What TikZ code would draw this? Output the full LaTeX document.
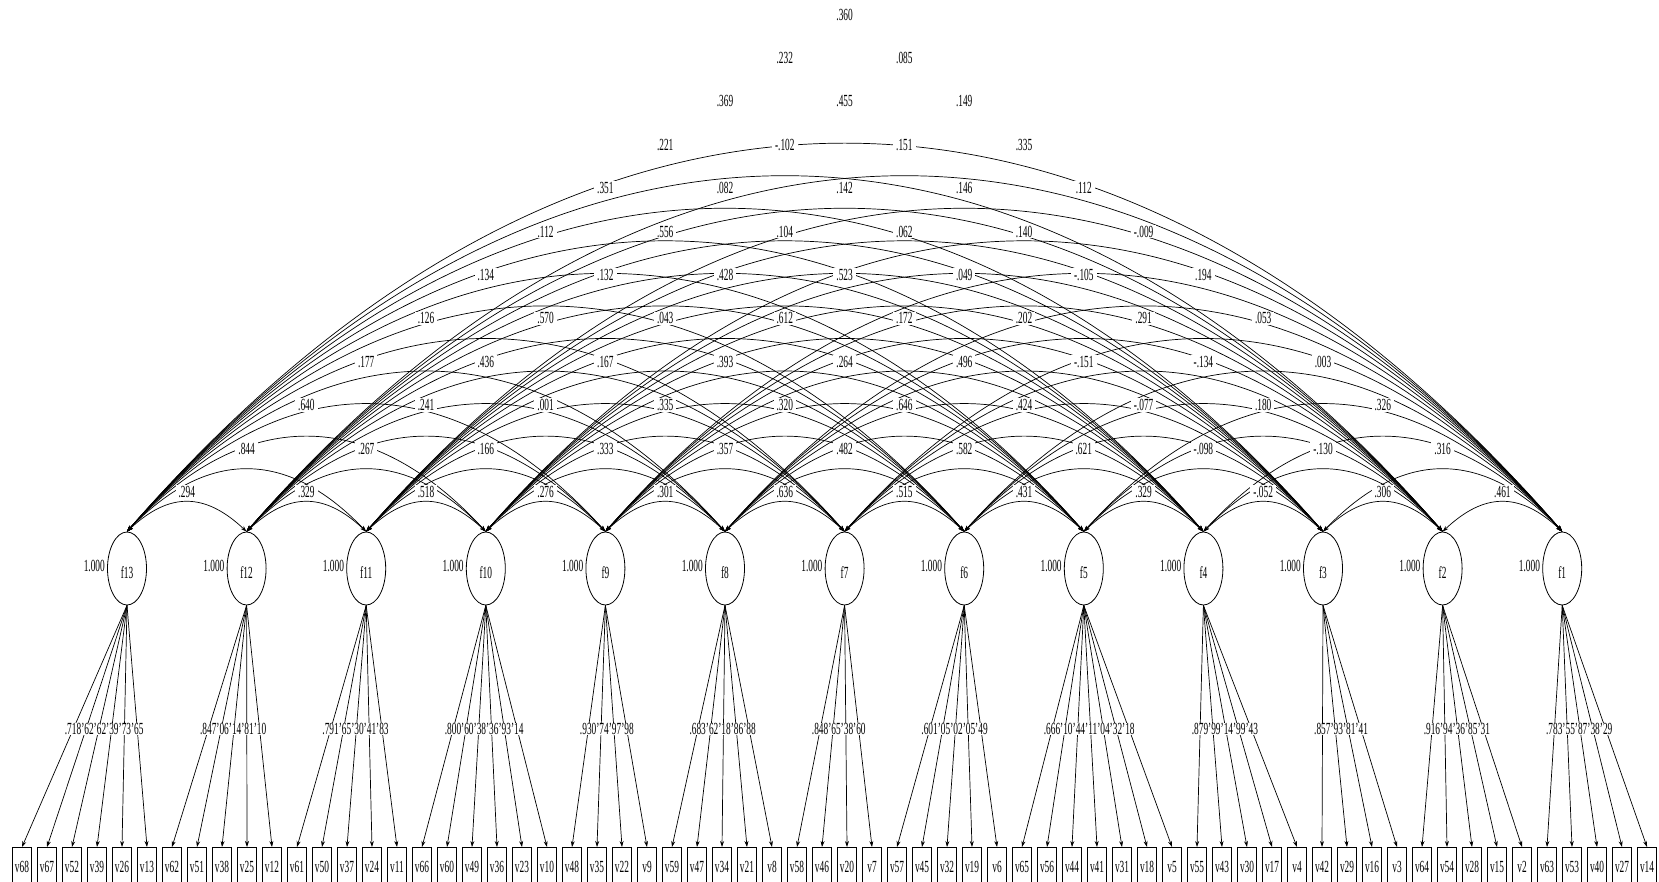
\documentclass[tikz,border=0pt]{standalone}
\usepackage{fontspec}
\setmainfont[FakeStretch=0.55]{Liberation Serif}
\usetikzlibrary{shapes.geometric,arrows.meta,calc}
\begin{document}
\begin{tikzpicture}[x=1pt,y=-1pt,
  font=\fontsize{17pt}{17pt}\selectfont,
  factor/.style={draw,ellipse,minimum width=39pt,minimum height=73pt,inner sep=0pt,line width=0.8pt},
  obs/.style={draw,rectangle,minimum width=19pt,minimum height=40pt,inner sep=0pt,line width=0.8pt,anchor=north},
  tipa/.tip={Stealth[length=6pt,width=4pt]},
  cov/.style={line width=0.7pt,tipa-tipa},
  load/.style={line width=0.7pt,-tipa},
  covlab/.style={fill=white,inner xsep=3pt,inner ysep=1pt},
  loadlab/.style={fill=white,inner sep=0.5pt,anchor=west},
  plain/.style={inner sep=0pt}
]
\useasboundingbox (0,0) rectangle (1659,882);
% factors
\foreach \k in {1,...,13}{
  \pgfmathsetmacro\x{127+(13-\k)*119.6}
  \node[factor] (f\k) at (\x,568.5) {};
  \node[plain] (fl\k) at (\x,573) {f\k};
  \node[plain,anchor=east] (fv\k) at (\x-22,566) {1.000};
}
% observed variables
\foreach \v [count=\n from 0] in {68,67,52,39,26,13,62,51,38,25,12,61,50,37,24,11,66,60,49,36,23,10,48,35,22,9,59,47,34,21,8,58,46,20,7,57,45,32,19,6,65,56,44,41,31,18,5,55,43,30,17,4,42,29,16,3,64,54,28,15,2,63,53,40,27,14}{
  \node[obs] (v\v) at (22+25*\n,847) {v\v};
}
% loadings
\foreach \f/\vs in {13/{68,67,52,39,26,13},12/{62,51,38,25,12},11/{61,50,37,24,11},10/{66,60,49,36,23,10},9/{48,35,22,9},8/{59,47,34,21,8},7/{58,46,20,7},6/{57,45,32,19,6},5/{65,56,44,41,31,18,5},4/{55,43,30,17,4},3/{42,29,16,3},2/{64,54,28,15,2},1/{63,53,40,27,14}}{
  \foreach \v in \vs { \draw[load] (f\f.south) -- (v\v.north); }
}
\foreach \f/\first/\s in {13/68/{.718'62'62'39'73'65},12/62/{.847'06'14'81'10},11/61/{.791'65'30'41'83},10/66/{.800'60'38'36'93'14},9/48/{.930'74'97'98},8/59/{.683'62'18'86'88},7/58/{.848'65'38'60},6/57/{.601'05'02'05'49},5/65/{.666'10'44'11'04'32'18},4/55/{.879'99'14'99'43},3/42/{.857'93'81'41},2/64/{.916'94'36'85'31},1/63/{.783'55'87'38'29}}{
  \node[loadlab,xshift=-9pt] (ll\f) at ($(f\f.south)!0.5124!(v\first.north)$) {\s};
}
% covariances
\def\covlist{1/2/.294,2/3/.329,3/4/.518,4/5/.276,5/6/.301,6/7/.636,7/8/.515,8/9/.431,9/10/.329,10/11/-.052,11/12/.306,12/13/.461,
1/3/.844,2/4/.267,3/5/.166,4/6/.333,5/7/.357,6/8/.482,7/9/.582,8/10/.621,9/11/-.098,10/12/-.130,11/13/.316,
1/4/.640,2/5/.241,3/6/.001,4/7/.335,5/8/.320,6/9/.646,7/10/.424,8/11/-.077,9/12/.180,10/13/.326,
1/5/.177,2/6/.436,3/7/.167,4/8/.393,5/9/.264,6/10/.496,7/11/-.151,8/12/-.134,9/13/.003,
1/6/.126,2/7/.570,3/8/.043,4/9/.612,5/10/.172,6/11/.202,7/12/.291,8/13/.053,
1/7/.134,2/8/.132,3/9/.428,4/10/.523,5/11/.049,6/12/-.105,7/13/.194,
1/8/.112,2/9/.556,3/10/.104,4/11/.062,5/12/.140,6/13/-.009,
1/9/.351,2/10/.082,3/11/.142,4/12/.146,5/13/.112,
1/10/.221,2/11/-.102,3/12/.151,4/13/.335,
1/11/.369,2/12/.455,3/13/.149,
1/12/.232,2/13/.085,
1/13/.360}
\foreach \i/\j/\t in \covlist{
  \pgfmathsetmacro\xa{127+(\i-1)*119.6}
  \pgfmathsetmacro\xb{127+(\j-1)*119.6}
  \pgfmathsetmacro\yc{492-(\j-\i-1)*43.4}
  \pgfmathsetmacro\a{0.31*(\xb-\xa)+5}
  \pgfmathtruncatemacro\ka{14-\i}
  \pgfmathtruncatemacro\kb{14-\j}
  \draw[cov] (f\ka.north) .. controls (\xa+\a,\yc) and (\xb-\a,\yc) .. (f\kb.north);
}
\foreach \i/\j/\t in \covlist{
  \pgfmathsetmacro\xm{127+(\i+\j-2)*59.8}
  \pgfmathsetmacro\yc{492-(\j-\i-1)*43.4}
  \pgfmathtruncatemacro\ka{14-\i}
  \pgfmathtruncatemacro\kb{14-\j}
  \node[covlab] (c\ka-\kb) at (\xm,\yc) {\t};
}
\end{tikzpicture}
\end{document}
